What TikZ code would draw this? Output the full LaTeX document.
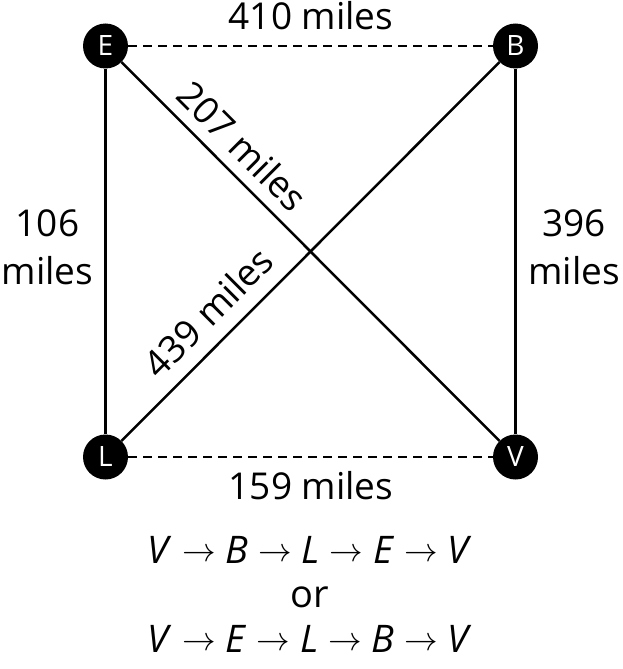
\documentclass[tikz,border=0pt]{standalone}
\usepackage{graphicx}
\usepackage{fontspec}
\setmainfont{Open Sans}
\newcommand\myarr{\raisebox{2pt}{\scalebox{1.35}{\fontsize{24.88}{25}\selectfont$\rightarrow$}}}
\begin{document}
\begin{tikzpicture}[x=1pt,y=-1pt,
  vert/.style={circle,fill=black,minimum size=45pt,inner sep=0pt,text=white,font=\fontsize{28}{28}\selectfont},
  edge/.style={line width=2.5pt},
  dedge/.style={line width=2.5pt,dash pattern=on 9pt off 6pt},
  lab/.style={font=\fontsize{37}{37}\selectfont,inner sep=0pt},
  route/.style={font=\fontsize{38}{38}\selectfont,inner sep=0pt}]
\useasboundingbox (0,0) rectangle (622,669);
\node[vert] (E) at (105.5,46) {E};
\node[vert] (B) at (515.5,46) {B};
\node[vert] (L) at (105.5,457) {L};
\node[vert] (V) at (515.5,457) {V};
\draw[dedge] (E) -- (B);
\draw[dedge] (L) -- (V);
\draw[edge] (E) -- (L);
\draw[edge] (B) -- (V);
\draw[edge] (E) -- (V);
\draw[edge] (L) -- (B);
\node[lab,anchor=base] (t410) at (311,30) {410 miles};
\node[lab,anchor=base] (t159) at (311,499) {159 miles};
\node[lab,anchor=base] (t106a) at (47.5,236) {106};
\node[lab,anchor=base] (t106b) at (47.5,284) {miles};
\node[lab,anchor=base] (t396a) at (574,236) {396};
\node[lab,anchor=base] (t396b) at (574,284) {miles};
\node[lab,rotate=-45] (t207) at (243,146) {207 miles};
\node[lab,rotate=45] (t439) at (208,312) {439 miles};
\node[route,anchor=base] (r1) at (310,563) {\textit{V} \myarr{} \textit{B} \myarr{} \textit{L} \myarr{} \textit{E} \myarr{} \textit{V}};
\node[route,anchor=base] (or) at (310,607) {or};
\node[route,anchor=base] (r2) at (310,652) {\textit{V} \myarr{} \textit{E} \myarr{} \textit{L} \myarr{} \textit{B} \myarr{} \textit{V}};
\end{tikzpicture}
\end{document}
